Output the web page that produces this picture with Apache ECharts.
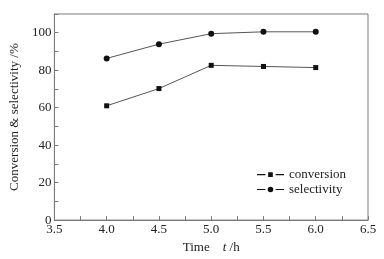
<!DOCTYPE html>
<html>
<head>
<meta charset="utf-8">
<script src="https://cdn.jsdelivr.net/npm/echarts@6/dist/echarts.min.js"></script>
<style>
  html, body { margin: 0; padding: 0; background: #fff; }
  #chart { width: 384px; height: 259px; }
</style>
</head>
<body>
<div id="chart"></div>
<script>
// time (h) and measured values (%)
var times = [4.0, 4.5, 5.0, 5.5, 6.0];
var conversion = [61.0, 70.2, 82.6, 82.0, 81.4];
var selectivity = [86.3, 93.9, 99.5, 100.5, 100.5];

var font = '"Liberation Serif", "Times New Roman", serif';
var axisColor = '#7a7a7a';
var textColor = '#222';

// legend icons "—■—" and "—●—"
var iconSquare = 'path://M0,0h0.01v0.01h-0.01z M0,2.5h9v1.2h-9z M12,0.6h5v5h-5z M20,2.5h9v1.2h-9z M0,6h0.01v0.01h-0.01z';
var iconCircle = 'path://M0,0h0.01v0.01h-0.01z M0,2.5h9v1.2h-9z M17.5,3.1A3,3 0 1,1 11.5,3.1A3,3 0 1,1 17.5,3.1z M20,2.5h9v1.2h-9z M0,6h0.01v0.01h-0.01z';

var myChart = echarts.init(document.getElementById('chart'));

var option = {
    animation: false,
    textStyle: {fontFamily: font},
    grid: {
        left: 53, right: 16, top: 14, bottom: 36,
        show: true, borderColor: axisColor, borderWidth: 1
    },
    legend: {
        orient: 'vertical',
        left: 252, top: 163,
        itemWidth: 27, itemHeight: 6, itemGap: 2,
        textStyle: {fontFamily: font, fontSize: 13, color: textColor},
        data: [
            {name: 'conversion', icon: iconSquare},
            {name: 'selectivity', icon: iconCircle}
        ]
    },
    xAxis: {
        type: 'value',
        min: 3.5, max: 6.5, interval: 0.25,
        name: 'Time    {i|t} /h',
        nameLocation: 'middle',
        nameGap: 18,
        nameTextStyle: {
            fontFamily: font, fontSize: 13, color: textColor,
            rich: {i: {fontStyle: 'italic', fontFamily: font, fontSize: 13, color: textColor}}
        },
        axisLine: {lineStyle: {color: axisColor}},
        axisTick: {inside: true, length: 4, lineStyle: {color: axisColor}},
        splitLine: {show: false},
        axisLabel: {
            fontFamily: font, fontSize: 13, color: textColor, margin: 3,
            formatter: function (v) {
                return Math.round(v * 100) % 50 === 0 ? v.toFixed(1) : '';
            }
        }
    },
    yAxis: {
        type: 'value',
        min: 0, max: 110, interval: 10,
        name: 'Conversion & selectivity /%',
        nameLocation: 'middle',
        nameGap: 29,
        nameTextStyle: {fontFamily: font, fontSize: 13, color: textColor},
        axisLine: {show: true, lineStyle: {color: axisColor}},
        axisTick: {show: true, inside: true, length: 4, lineStyle: {color: axisColor}},
        splitLine: {show: false},
        axisLabel: {
            fontFamily: font, fontSize: 13, color: textColor, margin: 3,
            formatter: function (v) {
                return v % 20 === 0 && v <= 100 ? String(v) : '';
            }
        }
    },
    series: [
        {
            name: 'conversion',
            type: 'line',
            data: times.map(function (t, i) { return [t, conversion[i]]; }),
            symbol: 'rect', symbolSize: 5,
            itemStyle: {color: '#111'},
            lineStyle: {color: '#555', width: 1}
        },
        {
            name: 'selectivity',
            type: 'line',
            data: times.map(function (t, i) { return [t, selectivity[i]]; }),
            symbol: 'circle', symbolSize: 6,
            itemStyle: {color: '#111'},
            lineStyle: {color: '#555', width: 1}
        }
    ]
};

myChart.setOption(option, true);
</script>
</body>
</html>
